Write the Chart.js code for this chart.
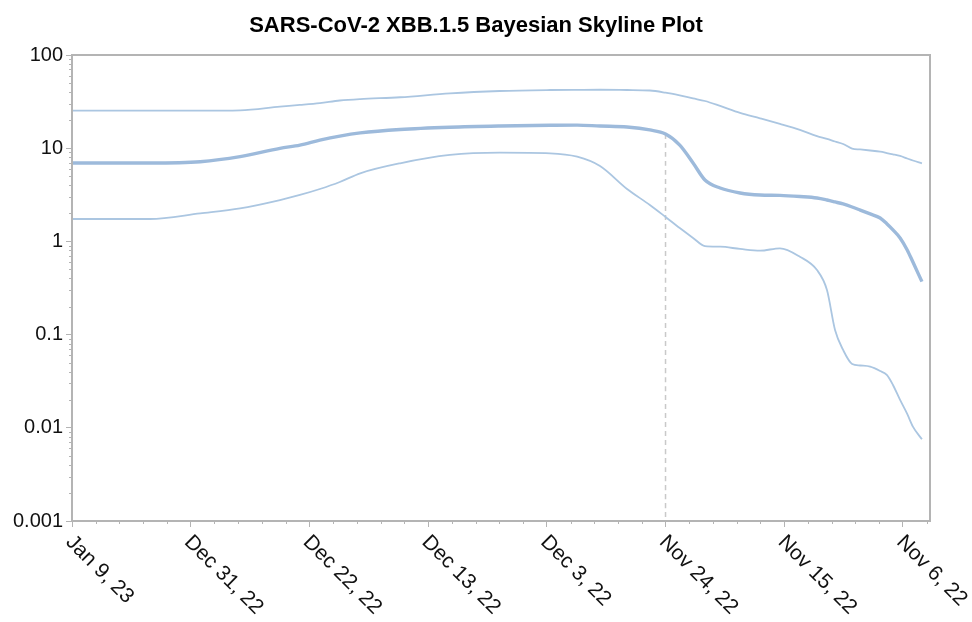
<!DOCTYPE html>
<html>
<head>
<meta charset="utf-8">
<script src="https://cdn.jsdelivr.net/npm/chart.js@4.4.1/dist/chart.umd.min.js"></script>
<style>
  html, body { margin: 0; padding: 0; background: #fff; }
  #wrap { width: 972px; height: 622px; }
</style>
</head>
<body>
<div id="wrap"><canvas id="skyline"></canvas></div>
<script>
// time in decimal years (axis runs backwards from the most recent sample)
const years = [2023.025, 2023.017, 2023.0086, 2022.998, 2022.9896, 2022.9812, 2022.977, 2022.9728,
  2022.9686, 2022.9643, 2022.9559, 2022.9454, 2022.9349, 2022.9243, 2022.9186, 2022.9138, 2022.9081,
  2022.9033, 2022.900, 2022.897, 2022.8942, 2022.8917, 2022.8885, 2022.8843, 2022.8801, 2022.8759,
  2022.8717, 2022.8681, 2022.866, 2022.8643, 2022.8626, 2022.8607, 2022.859, 2022.8569, 2022.8548,
  2022.8534, 2022.8521, 2022.8506, 2022.8491, 2022.8479, 2022.846];

const medianNe = [6.94, 6.94, 6.94, 7.16, 8.11, 9.97, 10.8, 12.2, 13.5, 14.6, 15.9, 16.8, 17.3, 17.6,
  17.7, 17.3, 16.9, 15.7, 14.2, 10.8, 6.94, 4.56, 3.74, 3.31, 3.15, 3.12, 3.03, 2.92, 2.78, 2.65, 2.52,
  2.34, 2.17, 1.97, 1.78, 1.55, 1.33, 1.09, 0.81, 0.60, 0.37];

const upperNe = [25.3, 25.3, 25.3, 25.3, 25.5, 27.9, 29.1, 30.5, 32.5, 33.7, 35.2, 38.8, 41.1, 42.1,
  42.3, 42.4, 42.1, 41.6, 39.4, 36.8, 34.2, 32.1, 28.4, 23.9, 20.9, 18.2, 15.7, 13.5, 12.6, 11.8, 11.1,
  9.9, 9.7, 9.45, 9.17, 8.88, 8.6, 8.25, 7.75, 7.38, 6.89];

const lowerNe = [1.74, 1.74, 1.74, 2.00, 2.26, 2.78, 3.15, 3.65, 4.34, 5.38, 6.89, 8.46, 8.95, 8.82,
  8.11, 6.44, 3.65, 2.46, 1.83, 1.39, 1.09, 0.89, 0.877, 0.83, 0.795, 0.843, 0.685, 0.493, 0.301, 0.112,
  0.0684, 0.0484, 0.0466, 0.0453, 0.0407, 0.0369, 0.0288, 0.0199, 0.0141, 0.0103, 0.00753];

const xTickValues = [2023.025, 2023.0, 2022.975, 2022.95, 2022.925, 2022.9, 2022.875, 2022.85];
const xTickLabels = ['Jan 9, 23', 'Dec 31, 22', 'Dec 22, 22', 'Dec 13, 22', 'Dec 3, 22', 'Nov 24, 22', 'Nov 15, 22', 'Nov 6, 22'];
const yTickValues = [0.001, 0.01, 0.1, 1, 10, 100];
const yTickLabels = ['0.001', '0.01', '0.1', '1', '10', '100'];

const chartTitle = 'SARS-CoV-2 XBB.1.5 Bayesian Skyline Plot';
const markerIndex = 18; // Nov 24, 22 sample, where the dashed line sits

const xMin = 2022.8443, xMax = 2023.025;
const axisGrey = '#b4b4b4';
const fontFamily = 'Arial, "Liberation Sans", sans-serif';

const toPoints = vals => vals.map((v, i) => ({x: years[i], y: v}));

// title, frame, minor ticks and the slanted date labels
const axisExtras = {
  id: 'axisExtras',
  afterDraw(chart) {
    const {ctx, chartArea: a, scales} = chart;
    const x = scales.x, y = scales.y;
    ctx.save();

    ctx.fillStyle = '#000';
    ctx.font = 'bold 22px ' + fontFamily;
    ctx.textAlign = 'center';
    ctx.textBaseline = 'alphabetic';
    ctx.fillText(chartTitle, 476, 32);

    ctx.strokeStyle = axisGrey;
    ctx.lineWidth = 2;
    ctx.strokeRect(a.left, a.top, a.right - a.left, a.bottom - a.top);

    ctx.lineWidth = 1;
    ctx.beginPath();
    for (let k = 0; k < 40; k++) {
      const v = xMax - k * 0.005;
      if (v < xMin) break;
      if (k % 5 === 0) continue;
      const px = Math.round(x.getPixelForValue(v)) + 0.5;
      ctx.moveTo(px, a.bottom);
      ctx.lineTo(px, a.bottom + 3);
    }
    for (let e = -3; e < 2; e++) {
      for (let m = 2; m < 10; m++) {
        const py = Math.round(y.getPixelForValue(m * Math.pow(10, e))) + 0.5;
        ctx.moveTo(a.left, py);
        ctx.lineTo(a.left - 3, py);
      }
    }
    ctx.stroke();

    ctx.fillStyle = '#111';
    ctx.font = '21px ' + fontFamily;
    ctx.textAlign = 'left';
    ctx.textBaseline = 'middle';
    xTickValues.forEach((v, i) => {
      const px = x.getPixelForValue(v);
      ctx.save();
      ctx.translate(px - 3, a.bottom + 18);
      ctx.rotate(Math.PI / 4);
      ctx.fillText(xTickLabels[i], 0, 0);
      ctx.restore();
    });
    ctx.restore();
  }
};

new Chart(document.getElementById('skyline'), {
  type: 'line',
  data: {
    datasets: [
      {
        label: 'upper',
        data: toPoints(upperNe),
        borderColor: '#abc6e1',
        borderWidth: 1.8
      },
      {
        label: 'median',
        data: toPoints(medianNe),
        borderColor: '#9dbadb',
        borderWidth: 3.4
      },
      {
        label: 'lower',
        data: toPoints(lowerNe),
        borderColor: '#abc6e1',
        borderWidth: 1.8
      },
      {
        label: 'marker',
        data: [{x: years[markerIndex], y: medianNe[markerIndex]}, {x: years[markerIndex], y: yTickValues[0]}],
        borderColor: '#c9c9c9',
        borderWidth: 1.5,
        borderDash: [5, 4]
      }
    ]
  },
  options: {
    responsive: true,
    maintainAspectRatio: false,
    animation: false,
    layout: {padding: {left: 0, right: 42, top: 55, bottom: 0}},
    elements: {
      point: {radius: 0, hoverRadius: 0},
      line: {cubicInterpolationMode: 'monotone', fill: false}
    },
    plugins: {
      legend: {display: false},
      tooltip: {enabled: false},
      title: {display: false}
    },
    scales: {
      x: {
        type: 'linear',
        reverse: true,
        min: xMin,
        max: xMax,
        afterBuildTicks: s => { s.ticks = xTickValues.map(v => ({value: v})); },
        afterFit: s => { s.height = 101; },
        ticks: {display: false},
        grid: {drawOnChartArea: false, drawTicks: true, tickLength: 6, color: axisGrey, lineWidth: 1},
        border: {display: true, color: axisGrey, width: 2}
      },
      y: {
        type: 'logarithmic',
        min: 0.001,
        max: 100,
        afterBuildTicks: s => { s.ticks = yTickValues.map(v => ({value: v})); },
        afterFit: s => { s.width = 72; },
        ticks: {
          color: '#111',
          padding: 3,
          font: {family: fontFamily, size: 20},
          callback: v => yTickLabels[yTickValues.indexOf(v)] ?? ''
        },
        grid: {drawOnChartArea: false, drawTicks: true, tickLength: 6, color: axisGrey, lineWidth: 1},
        border: {display: true, color: axisGrey, width: 2}
      }
    }
  },
  plugins: [axisExtras]
});
</script>
</body>
</html>
